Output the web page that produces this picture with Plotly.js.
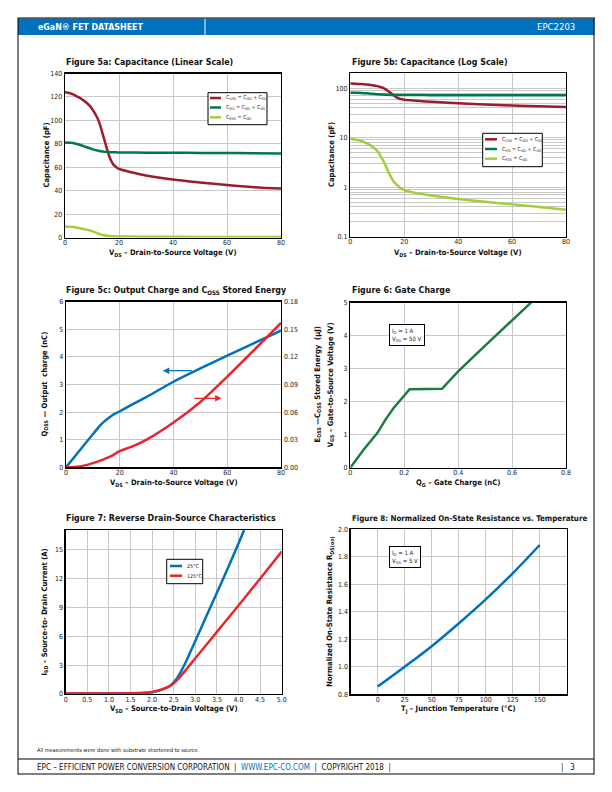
<!DOCTYPE html>
<html>
<head>
<meta charset="utf-8">
<script src="https://cdn.plot.ly/plotly-3.0.1.min.js"></script>
<style>
html,body{margin:0;padding:0;background:#fff;}
#chart{width:612px;height:792px;}
svg text{font-stretch:condensed !important;}
</style>
</head>
<body>
<div id="chart"></div>
<script>
// ---------------- DATA ----------------
// Figure 5a / 5b : capacitance vs VDS
const vds = [0,2,4,6,8,10,12,13,14,15,16,17,18,19,20,25,30,40,50,60,70,80];
const cOss = [124,123,121,118.5,115,110,102,96,88,80,72,66,62,60,58.5,55.5,53,49.5,47,44.8,43,41.8];
const cIss = [81,80.8,80,78.8,77,75.5,74.2,73.8,73.4,73.1,72.9,72.8,72.7,72.7,72.6,72.5,72.4,72.3,72.2,72.1,72,71.8];
const cRss = [9.4,9.1,8.6,7.7,6.7,5.4,3.6,2.8,2.1,1.65,1.32,1.15,1.02,0.93,0.87,0.75,0.68,0.58,0.51,0.45,0.40,0.35];
const capNames = ["C<sub>OSS</sub> = C<sub>GD</sub> + C<sub>SD</sub>","C<sub>ISS</sub> = C<sub>GD</sub> + C<sub>GS</sub>","C<sub>RSS</sub> = C<sub>GD</sub>"];
const logTickVals = [0.1,0.2,0.3,0.4,0.5,0.6,0.7,0.8,0.9,1,2,3,4,5,6,7,8,9,10,20,30,40,50,60,70,80,90,100,200];
const logTickText = ["0.1","","","","","","","","","1","","","","","","","","","10","","","","","","","","","100",""];

// Figure 5c : Qoss and Eoss vs VDS
const vdsQ = [0,5,10,13,15,17,20,25,30,40,50,60,70,80];
const qOss = [0,0.6,1.2,1.55,1.72,1.87,2.03,2.3,2.55,3.1,3.58,4.05,4.5,4.95];
const eOss = [0,0.0008,0.0045,0.0075,0.010,0.0125,0.0175,0.023,0.030,0.0486,0.071,0.0986,0.1275,0.157];
const eTickVals = [0,0.03,0.06,0.09,0.12,0.15,0.18];
const qArrow = {x:36, y:3.5, ax:47.4, ay:3.5};
const eArrow = {x:57.9, y:0.075, ax:47.2, ay:0.075};

// Figure 6 : gate charge
const qg = [0,0.05,0.1,0.13,0.16,0.19,0.22,0.34,0.4,0.5,0.6,0.67];
const vgs = [0,0.55,1.05,1.45,1.8,2.1,2.38,2.39,2.92,3.7,4.45,5.0];

// Figure 7 : reverse drain-source
const tempNames = ['25°C','125°C'];
const vsd25 = [0,0.5,1.0,1.5,1.8,2.0,2.2,2.4,2.5,2.6,2.7,2.8,2.9,3.0,3.25,3.5,3.75,4.0,4.13];
const isd25 = [0.05,0.05,0.06,0.07,0.1,0.18,0.4,0.8,1.2,1.8,2.6,3.5,4.5,5.5,8.0,10.5,13.0,15.6,17.0];
const vsd125 = [0,0.5,1.0,1.5,1.8,2.0,2.2,2.4,2.5,2.6,2.7,2.8,2.9,3.0,3.5,4.0,4.5,5.0];
const isd125 = [0.05,0.05,0.06,0.08,0.12,0.22,0.45,0.8,1.1,1.55,2.05,2.6,3.15,3.7,6.44,9.17,11.95,14.76];
const vsdTickVals = [0,0.5,1,1.5,2,2.5,3,3.5,4,4.5,5];
const vsdTickText = ["0","0.5","1.0","1.5","2.0","2.5","3.0","3.5","4.0","4.5","5.0"];

// Figure 8 : normalized Rds(on) vs Tj
const tj = [0,25,50,75,100,125,150];
const rdsNorm = [0.856,1.0,1.15,1.315,1.49,1.68,1.886];
const tjTickVals = [0,25,50,75,100,125,150];

// ---------------- STYLE / LAYOUT ----------------
const W = 612, H = 792;
const F = "'DejaVu Sans',sans-serif";
const EPCBLUE = '#0071bc';
const RED = '#e8262b', DARKRED = '#9b1c2c', GREEN = '#00784a', LGREEN = '#a5cd39', GGREEN = '#1b7d40';
const px = x => x / W;
const py = y => 1 - y / H;
const dX = (a,b) => [px(a), px(b)];
const dY = (t,b) => [py(b), py(t)];

function ax(extra){
  return Object.assign({
    showline:true, mirror:true, linecolor:'#000', linewidth:1.3,
    showgrid:true, gridcolor:'#c8c8c8', gridwidth:1, zeroline:false,
    ticks:'', tickfont:{family:F,size:7,color:'#222'}, fixedrange:true
  }, extra);
}
function xax(extra){ return ax(Object.assign({ticklabelstandoff:-2}, extra)); }

const boxes = {
  a:{x:[65,281], y:[73.5,237.5]},
  b:{x:[350.3,566], y:[73.3,236.7]},
  c:{x:[66,281], y:[301.7,467.3]},
  d:{x:[350.3,566], y:[302.7,467.7]},
  e:{x:[65.7,281.7], y:[530,694]},
  f:{x:[350.7,566.7], y:[529.3,694.3]}
};

const traces = [
  // 5a
  {x:vds, y:cOss, xaxis:'x', yaxis:'y', name:capNames[0], line:{color:DARKRED,width:2.5,shape:'spline'}, mode:'lines'},
  {x:vds, y:cIss, xaxis:'x', yaxis:'y', name:capNames[1], line:{color:GREEN,width:2.5,shape:'spline'}, mode:'lines'},
  {x:vds, y:cRss, xaxis:'x', yaxis:'y', name:capNames[2], line:{color:LGREEN,width:2.5,shape:'spline'}, mode:'lines'},
  // 5b
  {x:vds, y:cOss, xaxis:'x2', yaxis:'y2', name:capNames[0], line:{color:DARKRED,width:2.5,shape:'spline'}, mode:'lines'},
  {x:vds, y:cIss, xaxis:'x2', yaxis:'y2', name:capNames[1], line:{color:GREEN,width:2.5,shape:'spline'}, mode:'lines'},
  {x:vds, y:cRss, xaxis:'x2', yaxis:'y2', name:capNames[2], line:{color:LGREEN,width:2.5,shape:'spline'}, mode:'lines'},
  // 5c
  {x:vdsQ, y:qOss, xaxis:'x3', yaxis:'y3', name:'Q<sub>OSS</sub>', line:{color:EPCBLUE,width:2.5,shape:'spline'}, mode:'lines'},
  {x:vdsQ, y:eOss, xaxis:'x3', yaxis:'y4', name:'E<sub>OSS</sub>', line:{color:RED,width:2.5,shape:'spline'}, mode:'lines'},
  // 6
  {x:qg, y:vgs, xaxis:'x4', yaxis:'y5', name:'V<sub>GS</sub>', line:{color:GGREEN,width:2.5}, mode:'lines'},
  // 7
  {x:vsd25, y:isd25, xaxis:'x5', yaxis:'y6', name:tempNames[0], line:{color:EPCBLUE,width:2.5,shape:'spline'}, mode:'lines'},
  {x:vsd125, y:isd125, xaxis:'x5', yaxis:'y6', name:tempNames[1], line:{color:RED,width:2.5,shape:'spline'}, mode:'lines'},
  // 8
  {x:tj, y:rdsNorm, xaxis:'x6', yaxis:'y7', name:'R<sub>DS(on)</sub>', line:{color:EPCBLUE,width:2.5,shape:'spline'}, mode:'lines'}
];

function note(text,x,y,opts){
  return Object.assign({text:text, x:px(x), y:py(y), xref:'paper', yref:'paper', showarrow:false,
    font:{family:F,size:8,color:'#111'}}, opts||{});
}
function figTitle(text,x,y,size){
  return note('<b>'+text+'</b>', x, y, {xanchor:'left', yanchor:'middle', font:{family:F,size:size||8.8,color:'#111'}});
}
function xTitle(text,b,y){
  return note('<b>'+text+'</b>', (b.x[0]+b.x[1])/2, y, {xanchor:'center', yanchor:'middle', font:{family:F,size:7.6,color:'#111'}});
}
function yTitle(text,x,b){
  return note('<b>'+text+'</b>', x, (b.y[0]+b.y[1])/2, {xanchor:'center', yanchor:'middle', textangle:-90, font:{family:F,size:7.6,color:'#111'}});
}

const shapes = [
  // header bar
  {type:'rect', xref:'paper', yref:'paper', x0:px(18), x1:px(594.5), y0:py(35), y1:py(18.5), fillcolor:EPCBLUE, line:{width:0}},
  {type:'line', xref:'paper', yref:'paper', x0:px(17.5), x1:px(595), y0:py(18), y1:py(18), line:{color:'#000', width:1}},
  {type:'line', xref:'paper', yref:'paper', x0:px(205), x1:px(205), y0:py(19), y1:py(35), line:{color:'#fff', width:1}},
  // frame
  {type:'line', xref:'paper', yref:'paper', x0:px(18), x1:px(18), y0:py(18), y1:py(774.5), line:{color:'#000', width:1}},
  {type:'line', xref:'paper', yref:'paper', x0:px(594), x1:px(594), y0:py(18), y1:py(774.5), line:{color:'#000', width:1}},
  {type:'line', xref:'paper', yref:'paper', x0:px(18), x1:px(594), y0:py(759), y1:py(759), line:{color:'#000', width:1}},
  {type:'line', xref:'paper', yref:'paper', x0:px(18), x1:px(594), y0:py(774), y1:py(774), line:{color:'#000', width:1}}
];

const annotations = [
  // header / footer
  note('<b>eGaN® FET DATASHEET</b>', 36, 27, {xanchor:'left', yanchor:'middle', font:{family:F,size:8.8,color:'#fff'}}),
  note('EPC2203', 577, 27, {xanchor:'right', yanchor:'middle', font:{family:F,size:9.5,color:'#fff'}}),
  note('All measurements were done with substrate shortened to source.', 35, 750, {xanchor:'left', yanchor:'middle', font:{family:F,size:5.5,color:'#222'}}),
  note('EPC – EFFICIENT POWER CONVERSION CORPORATION  |  <span style="color:'+EPCBLUE+'">WWW.EPC-CO.COM</span>  |  COPYRIGHT 2018  |', 35, 767, {xanchor:'left', yanchor:'middle', font:{family:F,size:8,color:'#111'}}),
  note('|   3', 577, 767, {xanchor:'right', yanchor:'middle', font:{family:F,size:8,color:'#111'}}),
  // figure titles
  figTitle('Figure 5a: Capacitance (Linear Scale)', 64, 62),
  figTitle('Figure 5b: Capacitance (Log Scale)', 349.5, 62),
  figTitle('Figure 5c: Output Charge and C<sub>OSS</sub> Stored Energy', 64, 290),
  figTitle('Figure 6: Gate Charge', 349.5, 290),
  figTitle('Figure 7: Reverse Drain-Source Characteristics', 64, 518),
  figTitle('Figure 8: Normalized On-State Resistance vs. Temperature', 349.5, 518, 7.9),
  // axis titles
  xTitle('V<sub>DS</sub> – Drain-to-Source Voltage (V)', boxes.a, 253),
  xTitle('V<sub>DS</sub> – Drain-to-Source Voltage (V)', boxes.b, 253),
  xTitle('V<sub>DS</sub> – Drain-to-Source Voltage (V)', boxes.c, 483),
  xTitle('Q<sub>G</sub> – Gate Charge (nC)', boxes.d, 483),
  xTitle('V<sub>SD</sub> – Source-to-Drain Voltage (V)', boxes.e, 709),
  xTitle('T<sub>J</sub> – Junction Temperature (°C)', boxes.f, 709),
  yTitle('Capacitance (pF)', 46, boxes.a),
  yTitle('Capacitance (pF)', 331, boxes.b),
  yTitle('Q<sub>OSS</sub> — Output  charge (nC)', 44, boxes.c),
  yTitle('E<sub>OSS</sub> —C<sub>OSS</sub> Stored Energy  (µJ)', 317, boxes.c),
  yTitle('V<sub>GS</sub> – Gate-to-Source Voltage (V)', 331, boxes.d),
  yTitle('I<sub>SD</sub> – Source-to- Drain Current (A)', 44.5, boxes.e),
  yTitle('Normalized On-State Resistance R<sub>DS(on)</sub>', 330, boxes.f),
  // condition boxes
  note('I<sub>D</sub> = 1 A<br>V<sub>DS</sub> = 50 V', 388.5, 323.5, {xanchor:'left', yanchor:'top', align:'left', bgcolor:'#fff', bordercolor:'#000', borderwidth:1, borderpad:2, font:{family:F,size:6,color:'#222'}}),
  note('I<sub>D</sub> = 1 A<br>V<sub>GS</sub> = 5 V', 389, 546, {xanchor:'left', yanchor:'top', align:'left', bgcolor:'#fff', bordercolor:'#000', borderwidth:1, borderpad:2, font:{family:F,size:6,color:'#222'}}),
  // 5c arrows
  {x:qArrow.x, y:qArrow.y, ax:qArrow.ax, ay:qArrow.ay, xref:'x3', yref:'y3', axref:'x3', ayref:'y3', text:'', showarrow:true, arrowhead:2, arrowsize:1, arrowwidth:1.3, arrowcolor:EPCBLUE},
  {x:eArrow.x, y:eArrow.y, ax:eArrow.ax, ay:eArrow.ay, xref:'x3', yref:'y4', axref:'x3', ayref:'y4', text:'', showarrow:true, arrowhead:2, arrowsize:1, arrowwidth:1.3, arrowcolor:RED}
];

// compact legends (box, sample line, label) built from the series names/colours
function addLegend(box, rowsY, lineX, textX, names, colors){
  shapes.push({type:'rect', xref:'paper', yref:'paper', x0:px(box[0]), x1:px(box[1]), y0:py(box[3]), y1:py(box[2]),
    fillcolor:'#fff', line:{color:'#000', width:1}});
  names.forEach((n,i)=>{
    shapes.push({type:'line', xref:'paper', yref:'paper', x0:px(lineX[0]), x1:px(lineX[1]), y0:py(rowsY[i]), y1:py(rowsY[i]),
      line:{color:colors[i], width:2.5}});
    annotations.push(note(n, textX, rowsY[i], {xanchor:'left', yanchor:'middle', font:{family:F,size:5.3,color:'#222'}}));
  });
}
addLegend([208,267,92.7,124.7], [98,107.5,117.3], [210,221], 223.5, capNames, [DARKRED,GREEN,LGREEN]);
addLegend([482.7,542.3,133.3,166.7], [139.3,149,158.7], [485,497], 499.5, capNames, [DARKRED,GREEN,LGREEN]);
addLegend([166.7,202.7,559.3,583.7], [566,575.7], [170,182], 184.5, tempNames, [EPCBLUE,RED]);

const layout = {
  width:W, height:H, margin:{l:0,r:0,t:0,b:0}, paper_bgcolor:'#fff', plot_bgcolor:'#fff',
  font:{family:F, size:8, color:'#222'}, showlegend:false,
  // 5a
  xaxis: xax({domain:dX(...boxes.a.x), anchor:'y', range:[0,80], dtick:20}),
  yaxis: ax({domain:dY(...boxes.a.y), anchor:'x', range:[0,140], dtick:20}),
  // 5b
  xaxis2: xax({domain:dX(...boxes.b.x), anchor:'y2', range:[0,80], dtick:20}),
  yaxis2: ax({domain:dY(...boxes.b.y), anchor:'x2', type:'log', range:[-1, Math.log10(200)], tickmode:'array', tickvals:logTickVals, ticktext:logTickText}),
  // 5c
  xaxis3: xax({domain:dX(...boxes.c.x), anchor:'y3', range:[0,80], dtick:20}),
  yaxis3: ax({domain:dY(...boxes.c.y), anchor:'x3', range:[0,6], dtick:1}),
  yaxis4: ax({overlaying:'y3', anchor:'x3', side:'right', range:[0,0.18], tickmode:'array', tickvals:eTickVals, tickformat:'.2f', showgrid:false, showline:false, mirror:false, ticklabelstandoff:2}),
  // 6
  xaxis4: xax({domain:dX(...boxes.d.x), anchor:'y5', range:[0,0.8], dtick:0.2}),
  yaxis5: ax({domain:dY(...boxes.d.y), anchor:'x4', range:[0,5], dtick:1}),
  // 7
  xaxis5: xax({domain:dX(...boxes.e.x), anchor:'y6', range:[0,5], tickmode:'array', tickvals:vsdTickVals, ticktext:vsdTickText}),
  yaxis6: ax({domain:dY(...boxes.e.y), anchor:'x5', range:[0,17], tickmode:'array', tickvals:[0,3,6,9,12,15]}),
  // 8
  xaxis6: xax({domain:dX(...boxes.f.x), anchor:'y7', range:[-25,175], tickmode:'array', tickvals:tjTickVals}),
  yaxis7: ax({domain:dY(...boxes.f.y), anchor:'x6', range:[0.8,2.0], dtick:0.2, tickformat:'.1f'}),
  annotations: annotations,
  shapes: shapes
};

Plotly.newPlot('chart', traces, layout, {displayModeBar:false, staticPlot:true});
</script>
</body>
</html>
